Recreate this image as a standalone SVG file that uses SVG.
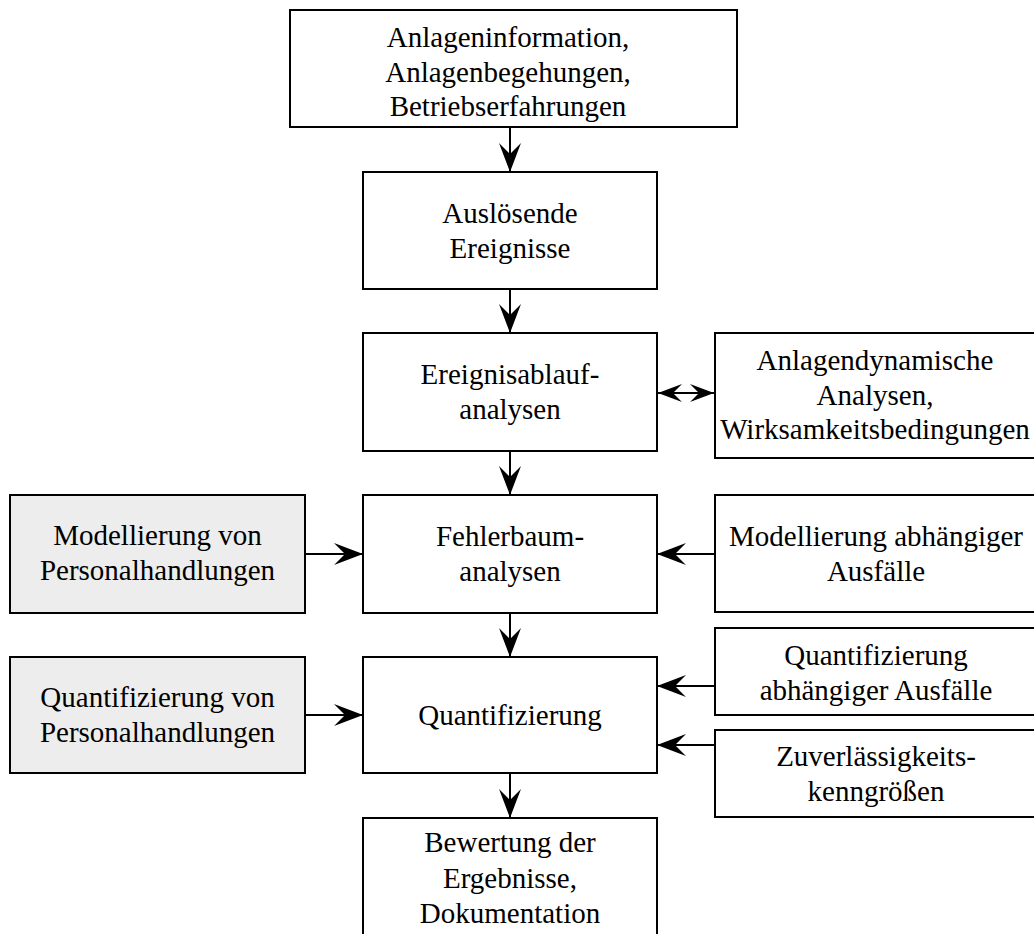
<svg xmlns="http://www.w3.org/2000/svg" width="1034" height="934" viewBox="0 0 1034 934">
<style>
.box{fill:#ffffff;stroke:#000;stroke-width:2}
.gray{fill:#ededed;stroke:#000;stroke-width:2}
text{font-family:"Liberation Serif","Times New Roman",serif;font-size:29px;fill:#000;text-anchor:middle}
.con{stroke:#000;stroke-width:2;fill:none}
</style>
<defs>
<marker id="ah" markerUnits="userSpaceOnUse" markerWidth="34" markerHeight="26" viewBox="-31 -13 34 26" refX="0" refY="0" orient="auto">
<path d="M0,0 L-29,-11 L-18,0 L-29,11 Z" fill="#000"/>
</marker>
<marker id="ahs" markerUnits="userSpaceOnUse" markerWidth="28" markerHeight="22" viewBox="-26 -11 28 22" refX="0" refY="0" orient="auto">
<path d="M0,0 L-24,-9 L-15,0 L-24,9 Z" fill="#000"/>
</marker>
<marker id="ahsr" markerUnits="userSpaceOnUse" markerWidth="28" markerHeight="22" viewBox="-2 -11 28 22" refX="0" refY="0" orient="auto">
<path d="M0,0 L24,-9 L15,0 L24,9 Z" fill="#000"/>
</marker>
</defs>
<g id="connectors">
<line class="con" x1="510" y1="127" x2="510" y2="172" marker-end="url(#ah)"/>
<line class="con" x1="510" y1="289" x2="510" y2="333" marker-end="url(#ah)"/>
<line class="con" x1="510" y1="451" x2="510" y2="495" marker-end="url(#ah)"/>
<line class="con" x1="510" y1="613" x2="510" y2="657" marker-end="url(#ah)"/>
<line class="con" x1="510" y1="773" x2="510" y2="818" marker-end="url(#ah)"/>
<line class="con" x1="305" y1="554" x2="363" y2="554" marker-end="url(#ah)"/>
<line class="con" x1="305" y1="715" x2="363" y2="715" marker-end="url(#ah)"/>
<line class="con" x1="715" y1="554" x2="657" y2="554" marker-end="url(#ah)"/>
<line class="con" x1="715" y1="686" x2="657" y2="686" marker-end="url(#ah)"/>
<line class="con" x1="715" y1="745" x2="657" y2="745" marker-end="url(#ah)"/>
<line class="con" x1="658" y1="393" x2="714" y2="393" marker-start="url(#ahsr)" marker-end="url(#ahs)"/>
</g>
<g id="n1">
<rect class="box" x="290" y="10" width="447" height="117"/>
<text x="508" y="47">Anlageninformation,</text>
<text x="508" y="82">Anlagenbegehungen,</text>
<text x="508" y="116">Betriebserfahrungen</text>
</g>
<g id="n2">
<rect class="box" x="363" y="172" width="294" height="117"/>
<text x="510" y="223">Auslösende</text>
<text x="510" y="258">Ereignisse</text>
</g>
<g id="n3">
<rect class="box" x="363" y="333" width="294" height="118"/>
<text x="510" y="384">Ereignisablauf-</text>
<text x="510" y="419">analysen</text>
</g>
<g id="n4">
<rect class="box" x="715" y="333" width="325" height="125"/>
<text x="875" y="370">Anlagendynamische</text>
<text x="875" y="405">Analysen,</text>
<text x="875" y="439">Wirksamkeitsbedingungen</text>
</g>
<g id="n5">
<rect class="gray" x="10" y="495" width="295" height="118"/>
<text x="157.5" y="545">Modellierung von</text>
<text x="157.5" y="580">Personalhandlungen</text>
</g>
<g id="n6">
<rect class="box" x="363" y="495" width="294" height="118"/>
<text x="510" y="546">Fehlerbaum-</text>
<text x="510" y="581">analysen</text>
</g>
<g id="n7">
<rect class="box" x="715" y="495" width="325" height="117"/>
<text x="876" y="546">Modellierung abhängiger</text>
<text x="876" y="581">Ausfälle</text>
</g>
<g id="n8">
<rect class="gray" x="10" y="657" width="295" height="116"/>
<text x="157.5" y="707">Quantifizierung von</text>
<text x="157.5" y="742">Personalhandlungen</text>
</g>
<g id="n9">
<rect class="box" x="363" y="657" width="294" height="116"/>
<text x="510" y="725">Quantifizierung</text>
</g>
<g id="n10">
<rect class="box" x="715" y="628" width="325" height="87"/>
<text x="876" y="665">Quantifizierung</text>
<text x="876" y="700">abhängiger Ausfälle</text>
</g>
<g id="n11">
<rect class="box" x="715" y="730" width="325" height="87"/>
<text x="876" y="766">Zuverlässigkeits-</text>
<text x="876" y="801">kenngrößen</text>
</g>
<g id="n12">
<rect class="box" x="363" y="818" width="294" height="120"/>
<text x="510" y="852">Bewertung der</text>
<text x="510" y="888">Ergebnisse,</text>
<text x="510" y="923">Dokumentation</text>
</g>
</svg>
